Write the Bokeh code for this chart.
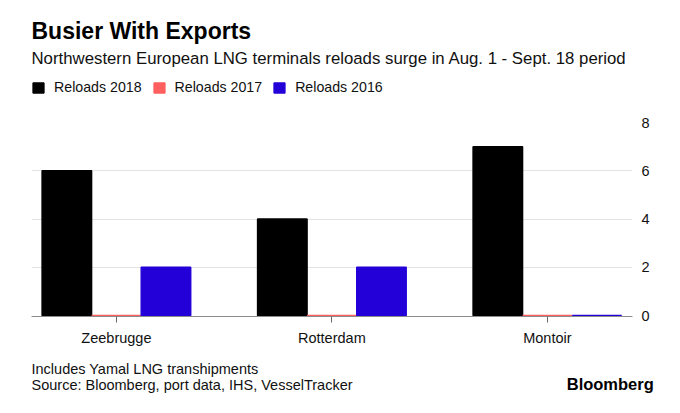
from bokeh.plotting import figure
from bokeh.models import (ColumnDataSource, Range1d, FixedTicker, Label, Legend, LegendItem)
from bokeh.layouts import column, row
from bokeh.transform import dodge
from bokeh.embed import file_html
from bokeh.resources import INLINE

# ---- data ----
categories = ["Zeebrugge", "Rotterdam", "Montoir"]
reloads_2018 = [6, 4, 7]
reloads_2017 = [0, 0, 0]
reloads_2016 = [2, 2, 0]
y_ticks = [0, 2, 4, 6, 8]

series_names = ["Reloads 2018", "Reloads 2017", "Reloads 2016"]
series_cols = ["r2018", "r2017", "r2016"]
colors = ["#000000", "#ff5f5f", "#2400d8"]

FONT = "Liberation Sans"
TXT = "#111111"
W = 664

xpos = [i + 0.5 for i in range(len(categories))]
src = ColumnDataSource(dict(x=xpos, r2018=reloads_2018, r2017=reloads_2017, r2016=reloads_2016))


def blank_fig(h):
    f = figure(width=W, height=h, output_backend="svg", toolbar_location=None,
               x_range=Range1d(0, 1), y_range=Range1d(0, 1),
               x_axis_location=None, y_axis_location=None,
               min_border_left=0, min_border_right=0, min_border_top=0, min_border_bottom=0)
    f.grid.visible = False
    f.outline_line_color = None
    return f


def lab(f, text, x, y, size, bold=False, align="left", color=TXT):
    f.add_layout(Label(x=x, y=y, x_units="screen", y_units="screen", text=text,
                       text_font=FONT, text_font_size=size,
                       text_font_style="bold" if bold else "normal",
                       text_color=color, text_align=align, text_baseline="alphabetic"))


# ---- header (title, subtitle, legend) ----
HH = 105
head = blank_fig(HH)
lab(head, "Busier With Exports", 31.0, HH - 30, "23px", bold=True, color="#000000")
lab(head, "Northwestern European LNG terminals reloads surge in Aug. 1 - Sept. 18 period",
    31.0, HH - 58, "16.8px")
leg_rs = []
for col, c in zip(series_cols, colors):
    r = head.vbar(x="x", top=col, width=0.2, source=src, fill_color=c, line_color=c)
    r.visible = False
    leg_rs.append(r)
legend = Legend(items=[LegendItem(label=n, renderers=[r]) for n, r in zip(series_names, leg_rs)],
                orientation="horizontal", location=(31, 10),
                glyph_width=14, glyph_height=13, label_standoff=9, spacing=10,
                padding=0, margin=0, border_line_color=None, background_fill_alpha=0,
                label_text_font=FONT, label_text_font_size="14.2px", label_text_color=TXT,
                label_height=13)
head.add_layout(legend, "center")

# ---- main chart ----
p = figure(width=W, height=250, output_backend="svg", toolbar_location=None,
           x_range=Range1d(0.106, 2.895), y_range=Range1d(-0.04, 8),
           y_axis_location="right",
           min_border_left=31, min_border_right=W - 632, min_border_top=17, min_border_bottom=39)
p.outline_line_color = None

bw = 0.23
for off, col, c in zip([-bw, 0.0, bw], series_cols, colors):
    p.vbar(x=dodge("x", off, range=p.x_range), top=col, bottom=0, width=bw, source=src,
           fill_color=c, line_color=c, line_width=1.4)

p.xaxis.ticker = FixedTicker(ticks=xpos)
p.xaxis.major_label_overrides = {x: c for x, c in zip(xpos, categories)}
p.xaxis.axis_line_color = "#8c8c8c"
p.xaxis.major_tick_line_color = "#666666"
p.xaxis.major_tick_out = 6
p.xaxis.major_tick_in = 0
p.xaxis.minor_tick_line_color = None
p.xaxis.major_label_standoff = 7
p.xaxis.major_label_text_font = FONT
p.xaxis.major_label_text_font_size = "14.5px"
p.xaxis.major_label_text_color = TXT

p.yaxis.ticker = FixedTicker(ticks=y_ticks)
p.yaxis.axis_line_color = None
p.yaxis.major_tick_line_color = None
p.yaxis.minor_tick_line_color = None
p.yaxis.major_tick_out = 0
p.yaxis.major_tick_in = 0
p.yaxis.major_label_standoff = 9
p.yaxis.major_label_text_font = FONT
p.yaxis.major_label_text_font_size = "14.5px"
p.yaxis.major_label_text_color = TXT

p.xgrid.grid_line_color = None
p.ygrid.ticker = FixedTicker(ticks=[t for t in y_ticks if t > 0])
p.ygrid.grid_line_color = "#e3e3e3"
p.ygrid.grid_line_width = 1

# ---- footer ----
FH = 42
foot = blank_fig(FH)
lab(foot, "Includes Yamal LNG transhipments", 31.0, FH - 13.5, "14.5px")
lab(foot, "Source: Bloomberg, port data, IHS, VesselTracker", 31.0, FH - 29.5, "14.5px")
lab(foot, "Bloomberg", 653.3, FH - 28, "16.5px", bold=True, align="right", color="#000000")

page = column(row(head), p, row(foot), spacing=0)
open("out.html", "w").write(file_html(page, INLINE))
